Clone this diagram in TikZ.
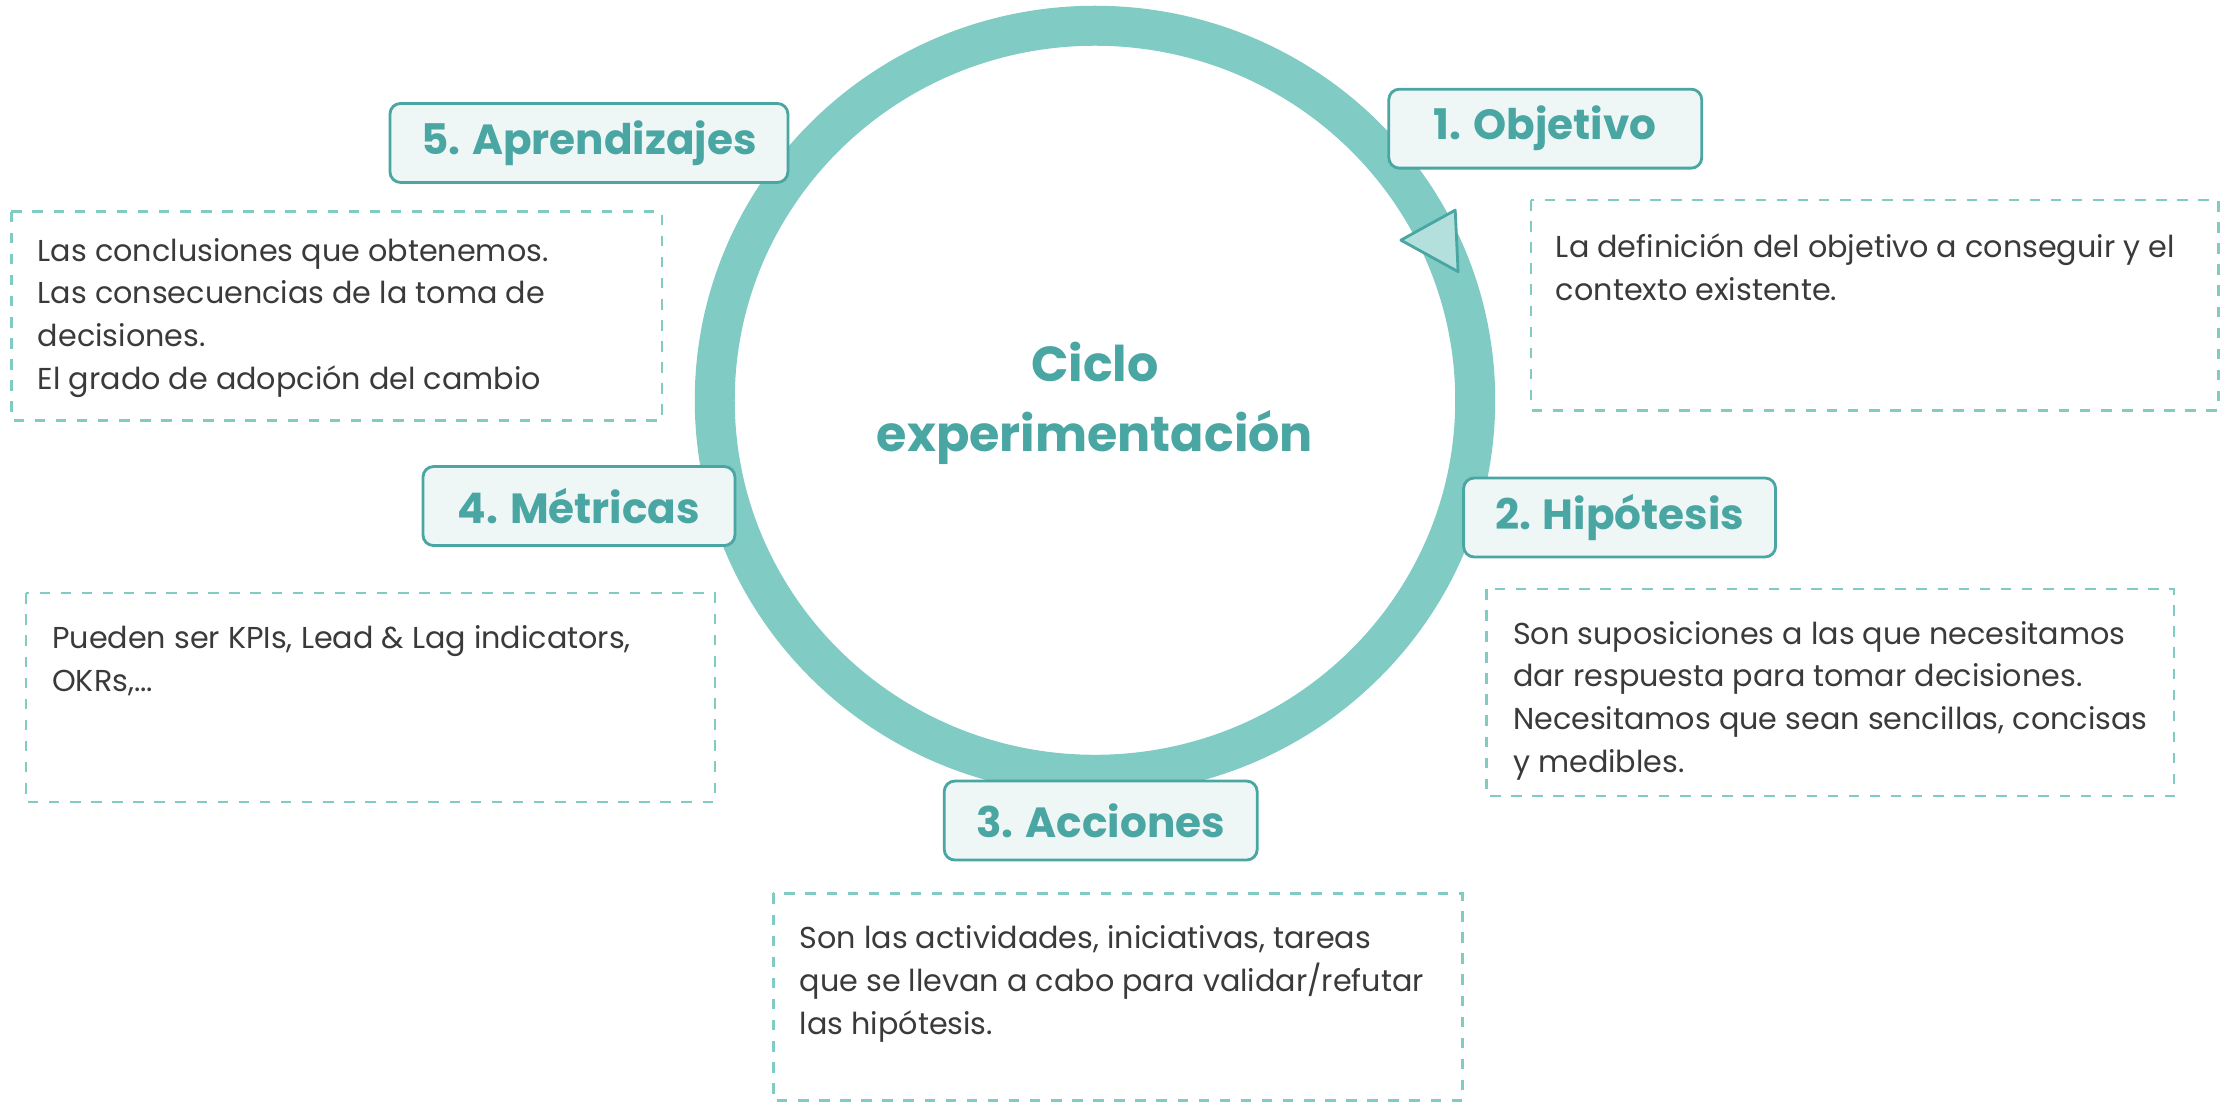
\documentclass[tikz,border=0pt]{standalone}
\usepackage{fontspec}
\setmainfont{Poppins}
\definecolor{ring}{HTML}{80CBC4}
\definecolor{teal}{HTML}{4AA6A3}
\definecolor{lfill}{HTML}{EFF7F6}
\definecolor{txt}{HTML}{3A3A3A}
\begin{document}
\begin{tikzpicture}[x=0.0143cm,y=-0.0143cm,
  lbl/.style={draw=teal,fill=lfill,rounded corners=3pt,line width=0.8pt,text=teal,font=\fontsize{12}{14}\selectfont\bfseries,minimum width=218\pgflinewidth,inner sep=0pt},
  dbox/.style={draw=ring,dashed,line width=0.7pt},
  body/.style={anchor=north west,align=left,text=txt,font=\fontsize{8.6}{12.2}\selectfont,inner sep=0pt}]
\useasboundingbox (0,0) rectangle (1560,780);
\draw[ring,line width=0.4cm] (766,280) ellipse (266 and 262);
\node[text=teal,font=\fontsize{14}{20}\selectfont\bfseries,align=center] (c) at (766,282) {Ciclo\\experimentación};
\filldraw[draw=teal,fill=ring!60,line width=0.8pt,line join=round] (980,168) -- (1018,147) -- (1020,190) -- cycle;
% label boxes
\node[lbl,minimum width=3.98cm,minimum height=0.79cm] (l5) at (412,100) {5. Aprendizajes};
\node[lbl,minimum width=3.13cm,minimum height=0.79cm] (l1) at (1081,90) {1. Objetivo};
\node[lbl,minimum width=3.12cm,minimum height=0.79cm] (l2) at (1133,362) {2. Hipótesis};
\node[lbl,minimum width=3.12cm,minimum height=0.79cm] (l4) at (405,354) {4. Métricas};
\node[lbl,minimum width=3.13cm,minimum height=0.79cm] (l3) at (770,574) {3. Acciones};
% dashed boxes
\draw[dbox] (8,148) rectangle (463,294);
\draw[dbox] (1071,140) rectangle (1552,287);
\draw[dbox] (1040,412) rectangle (1521,557);
\draw[dbox] (18,415) rectangle (500,561);
\draw[dbox] (541,625) rectangle (1023,770);
\node[body] (t5) at (26,166) {Las conclusiones que obtenemos.\\Las consecuencias de la toma de\\decisiones.\\El grado de adopción del cambio};
\node[body] (t1) at (1088,163) {La definición del objetivo a conseguir y el\\contexto existente.};
\node[body] (t2) at (1058,434) {Son suposiciones a las que necesitamos\\dar respuesta para tomar decisiones.\\Necesitamos que sean sencillas, concisas\\y medibles.};
\node[body] (t4) at (36,437) {Pueden ser KPIs, Lead \& Lag indicators,\\OKRs,...};
\node[body] (t3) at (559,647) {Son las actividades, iniciativas, tareas\\que se llevan a cabo para validar/refutar\\las hipótesis.};
\end{tikzpicture}
\end{document}
